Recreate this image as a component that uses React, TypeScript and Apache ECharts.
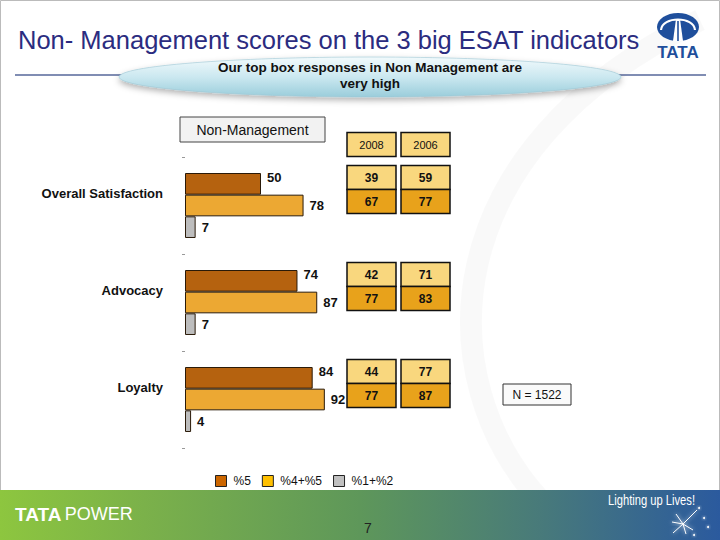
import React, { useEffect, useRef } from "react";
import * as echarts from "echarts";

// ---- data ----
const categories = ["Overall Satisfaction", "Advocacy", "Loyalty"];
const seriesNames = ["%5", "%4+%5", "%1+%2"];
const top5 = [50, 74, 84];
const top45 = [78, 87, 92];
const bottom12 = [7, 7, 4];
const tableYears = ["2008", "2006"];
const table5 = { "2008": [39, 42, 44], "2006": [59, 71, 77] };
const table45 = { "2008": [67, 77, 77], "2006": [77, 83, 87] };
const sampleNote = "N = 1522";
const titleText = "Non- Management scores on the 3 big ESAT indicators";
const subtitleText = "Our top box responses in Non Management are\nvery high";
const panelLabel = "Non-Management";
const pageNumber = "7";

const FONT = "'Liberation Sans', Arial, sans-serif";
const barColors = ["#B5620F", "#ECA833", "#BDBDBD"];
const legendColors = ["#CC6600", "#FFC000", "#C0C0C0"];

export default function App() {
  const ref = useRef<HTMLDivElement>(null);

  useEffect(() => {
    const chart = echarts.init(ref.current!, null, { renderer: "svg" });
    const valueSets = [top5, top45, bottom12];

    chart.setOption({
      animation: false,
      backgroundColor: "#ffffff",
      textStyle: { fontFamily: FONT },
      grid: { left: 185, right: 383, top: 157, bottom: 92 },
      xAxis: { type: "value", min: 0, max: 100, show: false },
      yAxis: {
        type: "category",
        data: categories,
        inverse: true,
        axisLine: { show: false },
        axisTick: { show: true, length: 3, lineStyle: { color: "#999" } },
        splitLine: { show: false },
        axisLabel: {
          fontSize: 13,
          fontWeight: "bold",
          color: "#111",
          margin: 22,
          lineHeight: 24,
          formatter: (v: string) => v + "\n ",
        },
      },
      legend: {
        left: 210,
        top: 470,
        itemWidth: 11,
        itemHeight: 11,
        itemGap: 11,
        textStyle: { fontSize: 12, color: "#111", padding: [0, 0, 0, 2] },
        data: seriesNames.map((n, i) => ({
          name: n,
          icon: "rect",
          itemStyle: { color: legendColors[i], borderColor: "#222", borderWidth: 1 },
        })),
      },
      series: seriesNames.map((n, i) => ({
        type: "bar",
        name: n,
        data: valueSets[i],
        barGap: "0%",
        barCategoryGap: "33%",
        itemStyle: { color: barColors[i], borderColor: "#2a1a08", borderWidth: 1 },
        label: {
          show: true,
          position: "right",
          distance: 6,
          fontSize: 13,
          fontWeight: "bold",
          color: "#111",
          offset: i === 0 ? [0, -6] : [0, 0],
        },
      })),
    });

    const yc = categories.map((c) => chart.convertToPixel({ yAxisIndex: 0 }, c) as number);
    const colX = [347, 401];
    const cellW = 49;
    const cellH = 24;
    const light = "#F9D77E";
    const dark = "#E8A21B";

    const cell = (x: number, y: number, fill: string, text: string, size: number, weight: string) => [
      { type: "rect", z: 10, shape: { x, y, width: cellW, height: cellH }, style: { fill, stroke: "#111", lineWidth: 1.5 } },
      {
        type: "text", z: 11, x: x + cellW / 2, y: y + cellH / 2,
        style: { text, fontSize: size, fontWeight: weight, fontFamily: FONT, fill: "#111", align: "center", verticalAlign: "middle" },
      },
    ];

    const tableEls: any[] = [];
    const headerTop = yc[0] - 16 - cellH - 33;
    tableYears.forEach((yr, j) => {
      tableEls.push(...cell(colX[j], headerTop, light, yr, 11, "normal"));
    });
    categories.forEach((_, i) => {
      const mid = yc[i] - 16;
      tableYears.forEach((yr, j) => {
        tableEls.push(...cell(colX[j], mid - cellH, light, String((table5 as any)[yr][i]), 12, "bold"));
        tableEls.push(...cell(colX[j], mid, dark, String((table45 as any)[yr][i]), 12, "bold"));
      });
    });

    const footerGrad = new echarts.graphic.LinearGradient(0, 0, 1, 0, [
      { offset: 0, color: "#8DC63F" },
      { offset: 0.2, color: "#7BB14A" },
      { offset: 0.5, color: "#5E975A" },
      { offset: 0.75, color: "#487A7A" },
      { offset: 1, color: "#2B5A9E" },
    ]);
    const ellipseGrad = new echarts.graphic.LinearGradient(0, 0, 0, 1, [
      { offset: 0, color: "#F2FAFC" },
      { offset: 0.5, color: "#CBE8F0" },
      { offset: 1, color: "#9ACDDB" },
    ]);

    const sparkle = [
      [683, 524, 697, 510],
      [683, 524, 673, 533],
      [683, 524, 676, 514],
      [683, 524, 693, 530],
      [683, 524, 686, 534],
      [683, 524, 672, 522],
    ].map(([x1, y1, x2, y2]) => ({
      type: "line", z: 20,
      shape: { x1, y1, x2, y2 },
      style: { stroke: "#ffffff", lineWidth: 1, shadowBlur: 4, shadowColor: "#ffffff" },
    }));
    const stars = [
      [699, 508], [704, 518], [694, 535], [708, 527],
    ].map(([cx, cy]) => ({
      type: "circle", z: 20, shape: { cx, cy, r: 1 }, style: { fill: "#ffffff", shadowBlur: 3, shadowColor: "#ffffff" },
    }));

    chart.setOption({
      graphic: [
        { type: "rect", z: -10, shape: { x: 0.5, y: 0.5, width: 719, height: 539 }, style: { fill: "none", stroke: "#bbbbbb", lineWidth: 1 } },
        {
          type: "bezierCurve", z: -9,
          shape: { x1: 700, y1: 20, cpx1: 430, cpy1: 150, cpx2: 430, cpy2: 380, x2: 540, y2: 500 },
          style: { stroke: "rgba(0,0,0,0.025)", lineWidth: 22, shadowBlur: 22, shadowColor: "rgba(0,0,0,0.06)", fill: "none" },
        },
        {
          type: "text", z: 5, x: 18, y: 40,
          style: { text: titleText, fontSize: 25.5, fontFamily: FONT, fill: "#2B2C80", verticalAlign: "middle" },
        },
        { type: "line", z: 4, shape: { x1: 15, y1: 75, x2: 706, y2: 75 }, style: { stroke: "#56679A", lineWidth: 1.5 } },
        {
          type: "ellipse", z: 5,
          shape: { cx: 370, cy: 77, rx: 251, ry: 20 },
          style: { fill: ellipseGrad, stroke: "#9CC6D3", lineWidth: 0.6, shadowBlur: 6, shadowOffsetY: 3, shadowColor: "rgba(0,0,0,0.3)" },
        },
        {
          type: "text", z: 6, x: 370, y: 75,
          style: { text: subtitleText, fontSize: 13.5, fontWeight: "bold", lineHeight: 16, fontFamily: FONT, fill: "#111", align: "center", verticalAlign: "middle" },
        },
        // TATA logo
        { type: "ellipse", z: 5, shape: { cx: 678, cy: 27, rx: 21, ry: 14 }, style: { fill: "#1F4F9C" } },
        {
          type: "bezierCurve", z: 6,
          shape: { x1: 661, y1: 30, cpx1: 662, cpy1: 16, cpx2: 694, cpy2: 16, x2: 695, y2: 30 },
          style: { stroke: "#ffffff", lineWidth: 2.2, fill: "none" },
        },
        { type: "polygon", z: 6, shape: { points: [[676, 19], [680, 19], [683, 41], [673, 41]] }, style: { fill: "#ffffff" } },
        { type: "line", z: 7, shape: { x1: 678, y1: 21, x2: 678, y2: 41 }, style: { stroke: "#1F4F9C", lineWidth: 1.6 } },
        {
          type: "text", z: 5, x: 678, y: 52,
          style: { text: "TATA", fontSize: 17, fontWeight: "bold", fontFamily: FONT, fill: "#1F4F9C", align: "center", verticalAlign: "middle" },
        },
        // panel label
        { type: "rect", z: 5, shape: { x: 180, y: 117, width: 145, height: 25 }, style: { fill: "#F2F2F2", stroke: "#444", lineWidth: 1 } },
        {
          type: "text", z: 6, x: 252.5, y: 129.5,
          style: { text: panelLabel, fontSize: 14, fontFamily: FONT, fill: "#111", align: "center", verticalAlign: "middle" },
        },
        ...tableEls,
        { type: "rect", z: 5, shape: { x: 503, y: 384, width: 68, height: 21 }, style: { fill: "#FAFAFA", stroke: "#333", lineWidth: 1 } },
        {
          type: "text", z: 6, x: 537, y: 394.5,
          style: { text: sampleNote, fontSize: 12, fontFamily: FONT, fill: "#111", align: "center", verticalAlign: "middle" },
        },
        // footer
        { type: "rect", z: 15, shape: { x: 0, y: 490, width: 720, height: 50 }, style: { fill: footerGrad } },
        {
          type: "text", z: 16, x: 15, y: 514,
          style: {
            text: "{a|TATA} {b|POWER}",
            verticalAlign: "middle",
            rich: {
              a: { fontSize: 19, fontWeight: "bold", fill: "#ffffff", color: "#ffffff", fontFamily: FONT },
              b: { fontSize: 18, fill: "#ffffff", color: "#ffffff", fontFamily: FONT },
            },
          },
        },
        {
          type: "text", z: 16, x: 608, y: 501, scaleX: 0.8,
          style: { text: "Lighting up Lives!", fontSize: 14, fontFamily: FONT, fill: "#ffffff", verticalAlign: "middle" },
        },
        ...sparkle,
        ...stars,
        {
          type: "text", z: 16, x: 368, y: 528,
          style: { text: pageNumber, fontSize: 14, fontFamily: FONT, fill: "#222", align: "center", verticalAlign: "middle" },
        },
      ],
    });

    return () => chart.dispose();
  }, []);

  return (
    <div
      ref={ref}
      style={{ position: "fixed", left: 0, top: 0, width: 720, height: 540 }}
    />
  );
}
